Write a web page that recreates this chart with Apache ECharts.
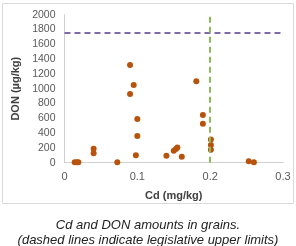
<!DOCTYPE html>
<html>
<head>
<meta charset="utf-8">
<script src="https://cdn.jsdelivr.net/npm/echarts@6/dist/echarts.min.js"></script>
<style>
  html, body { margin: 0; padding: 0; background: #fff; }
  #chart { width: 296px; height: 246px; }
</style>
</head>
<body>
<div id="chart"></div>
<script>
// Cd (mg/kg) vs DON (µg/kg) measured in grain samples
const cdValues = [0.014, 0.017, 0.019, 0.040, 0.040, 0.0725, 0.090, 0.095, 0.090, 0.100, 0.100, 0.098,
  0.140, 0.150, 0.153, 0.155, 0.161, 0.181, 0.190, 0.190, 0.201, 0.201, 0.201, 0.253, 0.260]
const donValues = [5, 5, 5, 190, 128, 5, 1320, 1050, 930, 590, 360, 100,
  95, 160, 185, 205, 82, 1100, 645, 525, 315, 240, 175, 20, 5]

const xTicks = ['0', '0.1', '0.2', '0.3']
const cdLimit = 0.2     // legislative upper limit Cd
const donLimit = 1750   // legislative upper limit DON

const points = cdValues.map((v, i) => [v, donValues[i]])

const myChart = echarts.init(document.getElementById('chart'), null, { renderer: 'canvas' })

myChart.setOption({
  animation: false,
  textStyle: { fontFamily: 'Liberation Sans, Arial, sans-serif' },
  graphic: [
    {
      type: 'rect',
      shape: { x: 2.5, y: 3.5, width: 291, height: 200 },
      style: { fill: 'none', stroke: '#d9d9d9', lineWidth: 1 },
      z: -1
    },
    {
      type: 'text',
      x: 148,
      y: 218,
      style: {
        text: 'Cd and DON amounts in grains.\n(dashed lines indicate legislative upper limits)',
        font: 'italic 13px Liberation Sans, Arial, sans-serif',
        fill: '#222',
        align: 'center',
        lineHeight: 15
      }
    }
  ],
  grid: { left: 64.5, right: 13, top: 14.7, bottom: 83.3 },
  xAxis: {
    type: 'value',
    min: 0,
    max: 0.3,
    interval: 0.1,
    name: 'Cd (mg/kg)',
    nameLocation: 'middle',
    nameGap: 28,
    nameTextStyle: { fontWeight: 'bold', fontSize: 11, color: '#404040' },
    axisLine: { show: true, lineStyle: { color: '#d0d0d0' } },
    axisTick: { show: false },
    splitLine: { show: false },
    axisLabel: {
      fontSize: 11,
      color: '#595959',
      margin: 9,
      formatter: (v) => xTicks[Math.round(v * 10)]
    }
  },
  yAxis: {
    type: 'value',
    min: 0,
    max: 2000,
    interval: 200,
    name: 'DON (µg/kg)',
    nameLocation: 'middle',
    nameGap: 42,
    nameTextStyle: { fontWeight: 'bold', fontSize: 11, color: '#404040' },
    axisLine: { show: true, lineStyle: { color: '#d0d0d0' } },
    axisTick: { show: false },
    splitLine: { show: false },
    axisLabel: { fontSize: 10.5, color: '#595959', margin: 9, formatter: (v) => String(v) }
  },
  series: [
    {
      type: 'scatter',
      data: points,
      symbolSize: 6,
      itemStyle: { color: '#b8530d', opacity: 1 },
      markLine: {
        silent: true,
        symbol: 'none',
        label: { show: false },
        data: [
          { yAxis: donLimit, lineStyle: { color: '#7f6aa8', width: 2, type: [6, 4] } },
          { xAxis: cdLimit, lineStyle: { color: '#8dbb5a', width: 2, type: [6, 4] } }
        ]
      }
    }
  ]
})
</script>
</body>
</html>
